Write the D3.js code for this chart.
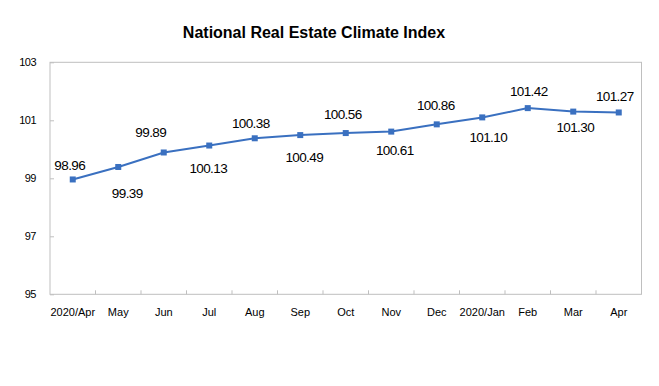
<!DOCTYPE html>
<html>
<head>
<meta charset="utf-8">
<script src="https://cdn.jsdelivr.net/npm/d3@7"></script>
<style>
  body { margin: 0; background: #fff; }
  text { font-family: "Liberation Sans", Arial, sans-serif; fill: #000; }
</style>
</head>
<body>
<svg id="chart" width="659" height="386"></svg>
<script>
const months = ['2020/Apr', 'May', 'Jun', 'Jul', 'Aug', 'Sep', 'Oct', 'Nov', 'Dec', '2020/Jan', 'Feb', 'Mar', 'Apr'];
const climateIndex = [98.96, 99.39, 99.89, 100.13, 100.38, 100.49, 100.56, 100.61, 100.86, 101.10, 101.42, 101.30, 101.27];
const yTicks = [95, 97, 99, 101, 103];

// hand placed label offsets (from the point), like the original chart
const labelNudge = [
    [-3, -9.5], [9, 31], [-13, -15], [-1, 27], [-4, -10], [4, 26.6], [-3, -14],
    [3.5, 23.4], [-1, -14.4], [6, 24.3], [1, -12.4], [2, 20.7], [-4, -11.8]
];

const COLORS = {
    line: '#3a70c0',
    frame: '#bfbfbf',
    text: '#000'
}

const plot = { left: 50, right: 641.5, top: 62.3, bottom: 294.3 };

const svg = d3.select('#chart');

const x = d3.scaleBand()
    .domain(months)
    .range([plot.left, plot.right])
    .padding(0);

const y = d3.scaleLinear()
    .domain([95, 103])
    .range([plot.bottom, plot.top]);

svg.append('text')
    .attr('x', 314)
    .attr('y', 37.7)
    .attr('text-anchor', 'middle')
    .attr('font-size', '16px')
    .attr('font-weight', 'bold')
    .text('National Real Estate Climate Index');

// frame round the plot area
svg.append('rect')
    .attr('x', plot.left)
    .attr('y', plot.top)
    .attr('width', plot.right - plot.left)
    .attr('height', plot.bottom - plot.top)
    .attr('fill', 'none')
    .attr('stroke', COLORS.frame)
    .attr('stroke-width', 1);

// y axis: short ticks pointing inward, labels on the left
const yAxis = d3.axisRight(y)
    .tickValues(yTicks)
    .tickSize(4)
    .tickFormat('');

svg.append('g')
    .attr('transform', 'translate(' + plot.left + ',0)')
    .call(yAxis)
    .call(g => g.select('.domain').remove())
    .call(g => g.selectAll('line').attr('stroke', COLORS.frame));

svg.append('g')
    .selectAll('text')
    .data(yTicks)
    .enter()
    .append('text')
    .attr('x', 36)
    .attr('y', d => y(d) + 3.8)
    .attr('text-anchor', 'end')
    .attr('font-size', '11px')
    .attr('letter-spacing', '-0.5px')
    .text(d => d);

// x axis: ticks on band edges pointing up
const edges = months.slice(1).map(m => x(m));
svg.append('g')
    .selectAll('line')
    .data(edges)
    .enter()
    .append('line')
    .attr('x1', d => d)
    .attr('x2', d => d)
    .attr('y1', plot.bottom)
    .attr('y2', plot.bottom - 4)
    .attr('stroke', COLORS.frame);

svg.append('g')
    .selectAll('text')
    .data(months)
    .enter()
    .append('text')
    .attr('x', d => x(d) + x.bandwidth() / 2)
    .attr('y', 315.7)
    .attr('text-anchor', 'middle')
    .attr('font-size', '11px')
    .text(d => d);

const points = months.map((m, i) => ({ month: m, value: climateIndex[i], nudge: labelNudge[i] }));
const px = d => x(d.month) + x.bandwidth() / 2;

const line = d3.line()
    .x(px)
    .y(d => y(d.value));

svg.append('path')
    .datum(points)
    .attr('d', line)
    .attr('fill', 'none')
    .attr('stroke', COLORS.line)
    .attr('stroke-width', 2);

svg.append('g')
    .selectAll('rect')
    .data(points)
    .enter()
    .append('rect')
    .attr('x', d => px(d) - 3)
    .attr('y', d => y(d.value) - 3)
    .attr('width', 6)
    .attr('height', 6)
    .attr('fill', COLORS.line);

svg.append('g')
    .selectAll('text')
    .data(points)
    .enter()
    .append('text')
    .attr('x', d => px(d) + d.nudge[0])
    .attr('y', d => y(d.value) + d.nudge[1])
    .attr('text-anchor', 'middle')
    .attr('font-size', '13.5px')
    .attr('letter-spacing', '-0.6px')
    .text(d => d.value.toFixed(2));
</script>
</body>
</html>
